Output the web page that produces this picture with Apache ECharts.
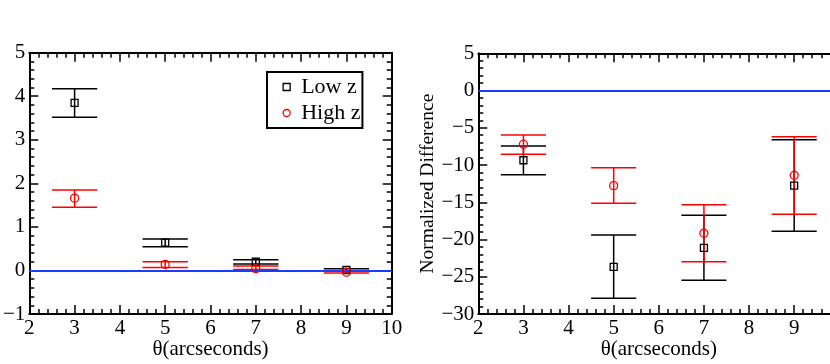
<!DOCTYPE html>
<html>
<head>
<meta charset="utf-8">
<script src="https://cdn.jsdelivr.net/npm/echarts@6/dist/echarts.min.js"></script>
<style>
  html, body { margin: 0; padding: 0; background: #fff; overflow: hidden; }
  #chart { width: 850px; height: 364px; }
</style>
</head>
<body>
<div id="chart"></div>
<script>
// angular bins (arcsec)
const theta = [3, 5, 7, 9]

// left panel
const leftLowVal = [3.85, 0.64, 0.2, 0.01]
const leftLowHi = [4.17, 0.72, 0.245, 0.04]
const leftLowLo = [3.52, 0.545, 0.15, -0.02]
const leftHighVal = [1.66, 0.14, 0.04, -0.04]
const leftHighHi = [1.85, 0.2, 0.1, -0.01]
const leftHighLo = [1.45, 0.07, 0.02, -0.06]

// right panel (normalized difference)
const rightLowVal = [-9.36, -23.68, -21.13, -12.77]
const rightLowHi = [-7.44, -19.39, -16.74, -6.6]
const rightLowLo = [-11.3, -27.9, -25.47, -18.9]
const rightHighVal = [-7.2, -12.77, -19.16, -11.38]
const rightHighHi = [-5.97, -10.35, -15.32, -6.19]
const rightHighLo = [-8.56, -15.13, -23.0, -16.6]

const FONT = '"Liberation Serif", "DejaVu Serif", serif'
const BLACK = '#000'
const RED = '#ff0000'
const BLUE = '#1a3cff'

function rows(val, hi, lo) {
  return theta.map((t, i) => [t, val[i], hi[i], lo[i]])
}

function errorBars(name, data, color, idx) {
  return {
    name: name,
    type: 'custom',
    xAxisIndex: idx * 2,
    yAxisIndex: idx * 2,
    data: data,
    silent: true,
    z: color === RED ? 4 : 3,
    renderItem: (params, api) => {
      const x = api.value(0)
      const hi = api.value(2)
      const lo = api.value(3)
      const top = api.coord([x, hi])
      const bot = api.coord([x, lo])
      const tl = api.coord([x - 0.5, hi])
      const tr = api.coord([x + 0.5, hi])
      const bl = api.coord([x - 0.5, lo])
      const br = api.coord([x + 0.5, lo])
      const style = { stroke: color, lineWidth: 1.5 }
      return {
        type: 'group',
        children: [
          { type: 'line', shape: { x1: top[0], y1: top[1], x2: bot[0], y2: bot[1] }, style },
          { type: 'line', shape: { x1: tl[0], y1: tl[1], x2: tr[0], y2: tr[1] }, style },
          { type: 'line', shape: { x1: bl[0], y1: bl[1], x2: br[0], y2: br[1] }, style },
        ],
      }
    },
  }
}

function points(name, val, symbol, color, idx) {
  return {
    name: name,
    type: 'scatter',
    xAxisIndex: idx * 2,
    yAxisIndex: idx * 2,
    data: theta.map((t, i) => [t, val[i]]),
    symbol: symbol,
    symbolSize: symbol === 'circle' ? 8 : 7,
    itemStyle: { color: 'rgba(0,0,0,0)', borderColor: color, borderWidth: 1.3, opacity: 1 },
    z: 5,
  }
}

function zeroLine(idx) {
  return {
    type: 'line',
    xAxisIndex: idx * 2,
    yAxisIndex: idx * 2,
    data: [],
    silent: true,
    markLine: {
      symbol: 'none',
      silent: true,
      label: { show: false },
      lineStyle: { color: BLUE, width: 2, type: 'solid' },
      data: [{ yAxis: 0 }],
    },
    z: 6,
  }
}

const tick = { show: true, inside: true, length: 9, lineStyle: { color: BLACK, width: 1.5 } }
const minor = { show: true, splitNumber: 5, length: 5, lineStyle: { color: BLACK, width: 1.5 } }
const line = { show: true, onZero: false, lineStyle: { color: BLACK, width: 2 } }
const minus = (v) => String(v).replace('-', '\u2212')

function xAxes(gi, hideLast) {
  const base = { type: 'value', gridIndex: gi, min: 2, max: 10, interval: 1, axisLine: line,
    axisTick: tick, minorTick: minor, splitLine: { show: false } }
  return [
    Object.assign({}, base, {
      position: 'bottom',
      name: 'θ(arcseconds)',
      nameLocation: 'middle',
      nameGap: 25,
      nameMoveOverlap: false,
      nameTextStyle: { fontFamily: FONT, fontSize: 21, color: BLACK },
      axisLabel: { fontFamily: FONT, fontSize: 21, color: BLACK, margin: 4,
        formatter: (v) => (hideLast && v === 10 ? '' : minus(v)) },
    }),
    Object.assign({}, base, { position: 'top', axisLabel: { show: false } }),
  ]
}

function yAxes(gi, min, max, interval, name) {
  const base = { type: 'value', gridIndex: gi, min: min, max: max, interval: interval, axisLine: line,
    axisTick: tick, minorTick: minor, splitLine: { show: false } }
  return [
    Object.assign({}, base, {
      position: 'left',
      name: name,
      nameLocation: 'middle',
      nameGap: 40,
      nameMoveOverlap: false,
      nameTextStyle: { fontFamily: FONT, fontSize: 19.5, color: BLACK },
      axisLabel: { fontFamily: FONT, fontSize: 21, color: BLACK, margin: 4, formatter: minus },
    }),
    Object.assign({}, base, { position: 'right', axisLabel: { show: false } }),
  ]
}

const chart = echarts.init(document.getElementById('chart'), null, { renderer: 'canvas' })

chart.setOption({
  animation: false,
  backgroundColor: '#fff',
  grid: [
    { left: 29.3, top: 52.7, width: 362.4, height: 261.3, outerBoundsMode: 'none', containLabel: false },
    { left: 478.3, top: 53.3, width: 361, height: 260.7, outerBoundsMode: 'none', containLabel: false },
  ],
  xAxis: [...xAxes(0, false), ...xAxes(1, true)],
  yAxis: [...yAxes(0, -1, 5, 1, ''), ...yAxes(1, -30, 5, 5, 'Normalized Difference')],
  legend: {
    left: 267,
    top: 72,
    orient: 'vertical',
    padding: [4, 2, 4, 15.5],
    itemGap: 4,
    itemWidth: 7,
    itemHeight: 7,
    itemTextGap: 12,
    borderColor: BLACK,
    borderWidth: 2,
    selectedMode: false,
    textStyle: { fontFamily: FONT, fontSize: 22, lineHeight: 21, color: BLACK, padding: [0, 0, 0, 6] },
    data: [
      { name: 'Low z', icon: 'rect', itemStyle: { color: 'rgba(0,0,0,0)', borderColor: BLACK, borderWidth: 1.3 } },
      { name: 'High z', icon: 'circle', itemStyle: { color: 'rgba(0,0,0,0)', borderColor: RED, borderWidth: 1.3 } },
    ],
  },
  series: [
    zeroLine(0),
    errorBars('Low z bars', rows(leftLowVal, leftLowHi, leftLowLo), BLACK, 0),
    errorBars('High z bars', rows(leftHighVal, leftHighHi, leftHighLo), RED, 0),
    points('Low z', leftLowVal, 'rect', BLACK, 0),
    points('High z', leftHighVal, 'circle', RED, 0),
    zeroLine(1),
    errorBars('Low z bars R', rows(rightLowVal, rightLowHi, rightLowLo), BLACK, 1),
    errorBars('High z bars R', rows(rightHighVal, rightHighHi, rightHighLo), RED, 1),
    points('Low z', rightLowVal, 'rect', BLACK, 1),
    points('High z', rightHighVal, 'circle', RED, 1),
  ],
})
</script>
</body>
</html>
